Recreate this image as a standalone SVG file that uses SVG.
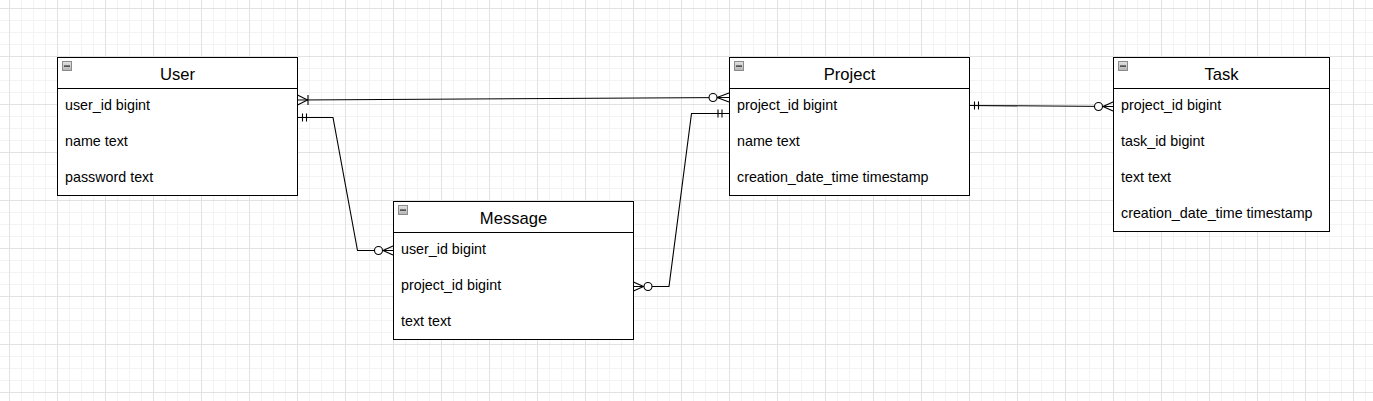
<svg xmlns="http://www.w3.org/2000/svg" width="1373" height="401" viewBox="0 0 1373 401">
  <defs>
    <pattern id="minor" x="9" y="8" width="12" height="12" patternUnits="userSpaceOnUse">
      <rect x="0" y="0" width="1" height="12" fill="#f3f3f3"/>
      <rect x="0" y="0" width="12" height="1" fill="#f3f3f3"/>
    </pattern>
    <pattern id="major" x="9" y="8" width="48" height="48" patternUnits="userSpaceOnUse">
      <rect x="0" y="0" width="1" height="48" fill="#e2e2e2"/>
      <rect x="0" y="0" width="48" height="1" fill="#e2e2e2"/>
    </pattern>
    <linearGradient id="iconGrad" x1="0" y1="0" x2="0" y2="1">
      <stop offset="0" stop-color="#e4e4e4"/>
      <stop offset="1" stop-color="#b4b4b4"/>
    </linearGradient>
    <g id="minus">
      <rect x="0.5" y="0.5" width="9" height="9" fill="url(#iconGrad)" stroke="#8c8c8c" stroke-width="1"/>
      <rect x="2" y="4.5" width="6" height="1.2" fill="#222"/>
    </g>
  </defs>
  <style>
    .box { fill: #ffffff; stroke: #000000; stroke-width: 1; }
    .sep { stroke: #000000; stroke-width: 1; }
    .title { font-family: "Liberation Sans", Arial, sans-serif; font-size: 16.6px; fill: #000; text-anchor: middle; }
    .row { font-family: "Liberation Sans", Arial, sans-serif; font-size: 14.3px; fill: #000; }
    .conn { fill: none; stroke: #000000; stroke-width: 1.1; }
    .circ { fill: #ffffff; stroke: #000000; stroke-width: 1.1; }
  </style>
  <rect x="0" y="0" width="1373" height="401" fill="#ffffff"/>
  <rect x="0" y="0" width="1373" height="401" fill="url(#minor)"/>
  <rect x="0" y="0" width="1373" height="401" fill="url(#major)"/>

  <g id="connectors">
    <!-- User -> Project -->
    <path class="conn" d="M297.5,100 L729,97.5"/>
    <path class="conn" d="M297.5,95 L307.5,100 L297.5,105 M308,95 L308,105"/>
    <path class="conn" d="M729,93 L717,97.5 L729,102"/>
    <circle class="circ" cx="713" cy="97.5" r="4"/>

    <!-- User -> Message -->
    <path class="conn" d="M297.5,117.5 H333 L357.5,250.5 H393"/>
    <path class="conn" d="M302.5,113.5 V121.5 M306.5,113.5 V121.5"/>
    <path class="conn" d="M393,246 L383,250.5 L393,255"/>
    <circle class="circ" cx="378.5" cy="250.5" r="4"/>

    <!-- Message -> Project -->
    <path class="conn" d="M633.5,286.5 H669 L691.5,113.5 H729"/>
    <path class="conn" d="M633.5,282 L643.5,286.5 L633.5,291"/>
    <circle class="circ" cx="648" cy="286.5" r="4"/>
    <path class="conn" d="M718,109.5 V117.5 M722,109.5 V117.5"/>

    <!-- Project -> Task -->
    <path class="conn" d="M969.5,105.5 L1113,106.5"/>
    <path class="conn" d="M974.5,101.5 V109.5 M978.5,101.5 V109.5"/>
    <path class="conn" d="M1113,102 L1103,106.5 L1113,111"/>
    <circle class="circ" cx="1098.5" cy="106.5" r="4"/>
  </g>

  <g id="user">
    <rect class="box" x="57.5" y="57.5" width="240" height="138"/>
    <line class="sep" x1="57.5" y1="88.5" x2="297.5" y2="88.5"/>
    <use href="#minus" x="62" y="61"/>
    <text class="title" x="177.5" y="80">User</text>
    <text class="row" x="65" y="109.5">user_id bigint</text>
    <text class="row" x="65" y="145.5">name text</text>
    <text class="row" x="65" y="181.5">password text</text>
  </g>

  <g id="project">
    <rect class="box" x="729.5" y="57.5" width="240" height="138"/>
    <line class="sep" x1="729.5" y1="88.5" x2="969.5" y2="88.5"/>
    <use href="#minus" x="734" y="61"/>
    <text class="title" x="849.5" y="80">Project</text>
    <text class="row" x="737" y="109.5">project_id bigint</text>
    <text class="row" x="737" y="145.5">name text</text>
    <text class="row" x="737" y="181.5">creation_date_time timestamp</text>
  </g>

  <g id="task">
    <rect class="box" x="1113.5" y="57.5" width="216" height="174"/>
    <line class="sep" x1="1113.5" y1="88.5" x2="1329.5" y2="88.5"/>
    <use href="#minus" x="1118" y="61"/>
    <text class="title" x="1221.5" y="80">Task</text>
    <text class="row" x="1121" y="109.5">project_id bigint</text>
    <text class="row" x="1121" y="145.5">task_id bigint</text>
    <text class="row" x="1121" y="181.5">text text</text>
    <text class="row" x="1121" y="217.5">creation_date_time timestamp</text>
  </g>

  <g id="message">
    <rect class="box" x="393.5" y="201.5" width="240" height="138"/>
    <line class="sep" x1="393.5" y1="232.5" x2="633.5" y2="232.5"/>
    <use href="#minus" x="398" y="205"/>
    <text class="title" x="513.5" y="224">Message</text>
    <text class="row" x="401" y="253.5">user_id bigint</text>
    <text class="row" x="401" y="289.5">project_id bigint</text>
    <text class="row" x="401" y="325.5">text text</text>
  </g>
</svg>
